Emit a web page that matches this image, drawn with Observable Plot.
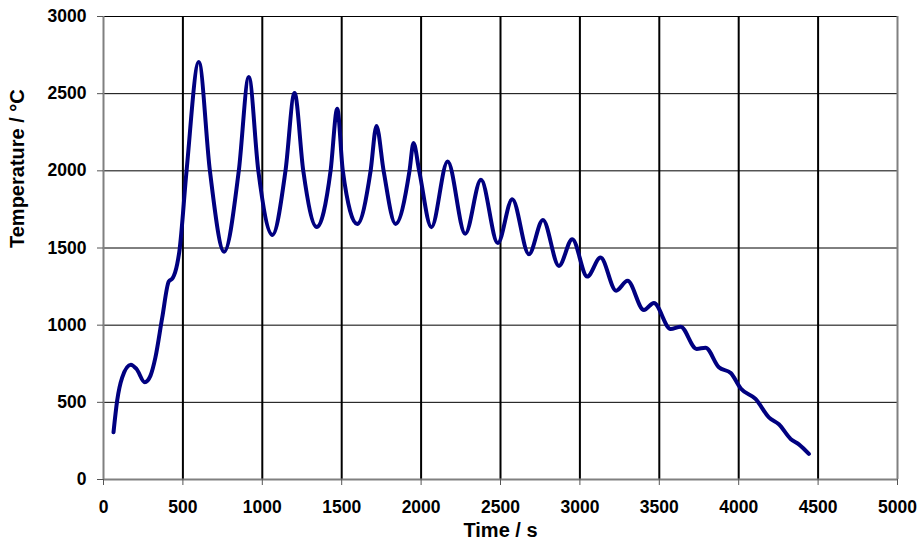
<!DOCTYPE html>
<html>
<head>
<meta charset="utf-8">
<script src="https://cdn.jsdelivr.net/npm/d3@7"></script>
<script src="https://cdn.jsdelivr.net/npm/@observablehq/plot@0.6"></script>
<style>
  html, body { margin: 0; padding: 0; background: #fff; }
</style>
</head>
<body>
<div id="chart"></div>
<script>
const timeS = [63, 86, 118, 172, 208, 260, 296, 327, 370, 411, 436, 464, 478, 523, 600, 670, 760, 852, 915, 975, 1064, 1146, 1203, 1258, 1343, 1430, 1472, 1507, 1598, 1682, 1719, 1764, 1839, 1927, 1952, 1988, 2065, 2167, 2278, 2377, 2483, 2574, 2679, 2767, 2868, 2952, 3046, 3130, 3228, 3300, 3403, 3466, 3571, 3634, 3735, 3791, 3875, 3950, 4013, 4106, 4190, 4253, 4327, 4379, 4442];
const tempC = [306, 511, 662, 744, 716, 630, 673, 791, 1050, 1283, 1305, 1395, 1481, 2000, 2705, 2000, 1476, 2000, 2608, 2000, 1585, 2000, 2504, 2000, 1636, 2000, 2403, 2000, 1656, 2000, 2290, 2000, 1656, 2000, 2180, 2000, 1635, 2061, 1592, 1942, 1532, 1816, 1460, 1682, 1384, 1557, 1315, 1438, 1223, 1287, 1098, 1144, 975, 990, 846, 854, 727, 690, 590, 522, 403, 358, 263, 228, 166];
const xTicks = [0, 500, 1000, 1500, 2000, 2500, 3000, 3500, 4000, 4500, 5000];
const yTicks = [0, 500, 1000, 1500, 2000, 2500, 3000];
const xGridLines = [500, 1000, 1500, 2000, 2500, 3000, 3500, 4000, 4500];
const yGridLines = [500, 1000, 1500, 2000, 2500, 3000];
const xTitle = "Time / s";
const yTitle = "Temperature / °C";

const data = timeS.map((t, i) => ({t, T: tempC[i]}));

const chart = Plot.plot({
  width: 918,
  height: 550,
  marginLeft: 103,
  marginRight: 21,
  marginTop: 16,
  marginBottom: 71,
  style: {fontFamily: "'Liberation Sans', Arial, sans-serif", background: "#fff", color: "#000"},
  x: {domain: [0, 5000]},
  y: {domain: [0, 3000]},
  marks: [
    Plot.gridX(xGridLines, {stroke: "#000", strokeOpacity: 1, strokeWidth: 2}),
    Plot.gridY(yGridLines, {stroke: "#000", strokeOpacity: 1, strokeWidth: 1}),
    Plot.ruleX([5000], {stroke: "#808080", strokeWidth: 2}),
    Plot.ruleX([0], {stroke: "#808080", strokeWidth: 2}),
    Plot.ruleY([0], {stroke: "#808080", strokeWidth: 2}),
    Plot.axisX(xTicks, {tickSize: 6, tickPadding: 15, fontSize: 17.5, fontWeight: "bold", label: null, stroke: "#555", tickFormat: d => String(d)}),
    Plot.axisY(yTicks, {tickSize: 6, tickPadding: 11, fontSize: 17.5, fontWeight: "bold", label: null, stroke: "#555", tickFormat: d => String(d)}),
    Plot.text([xTitle], {frameAnchor: "bottom", dy: 57.5, fontSize: 20, fontWeight: "bold", fill: "#000"}),
    Plot.text([yTitle], {frameAnchor: "left", dx: -85.5, rotate: -90, fontSize: 20, fontWeight: "bold", fill: "#000"}),
    Plot.line(data, {x: "t", y: "T", curve: "monotone-x", stroke: "#000080", strokeWidth: 4})
  ]
});
document.getElementById("chart").appendChild(chart);
</script>
</body>
</html>
